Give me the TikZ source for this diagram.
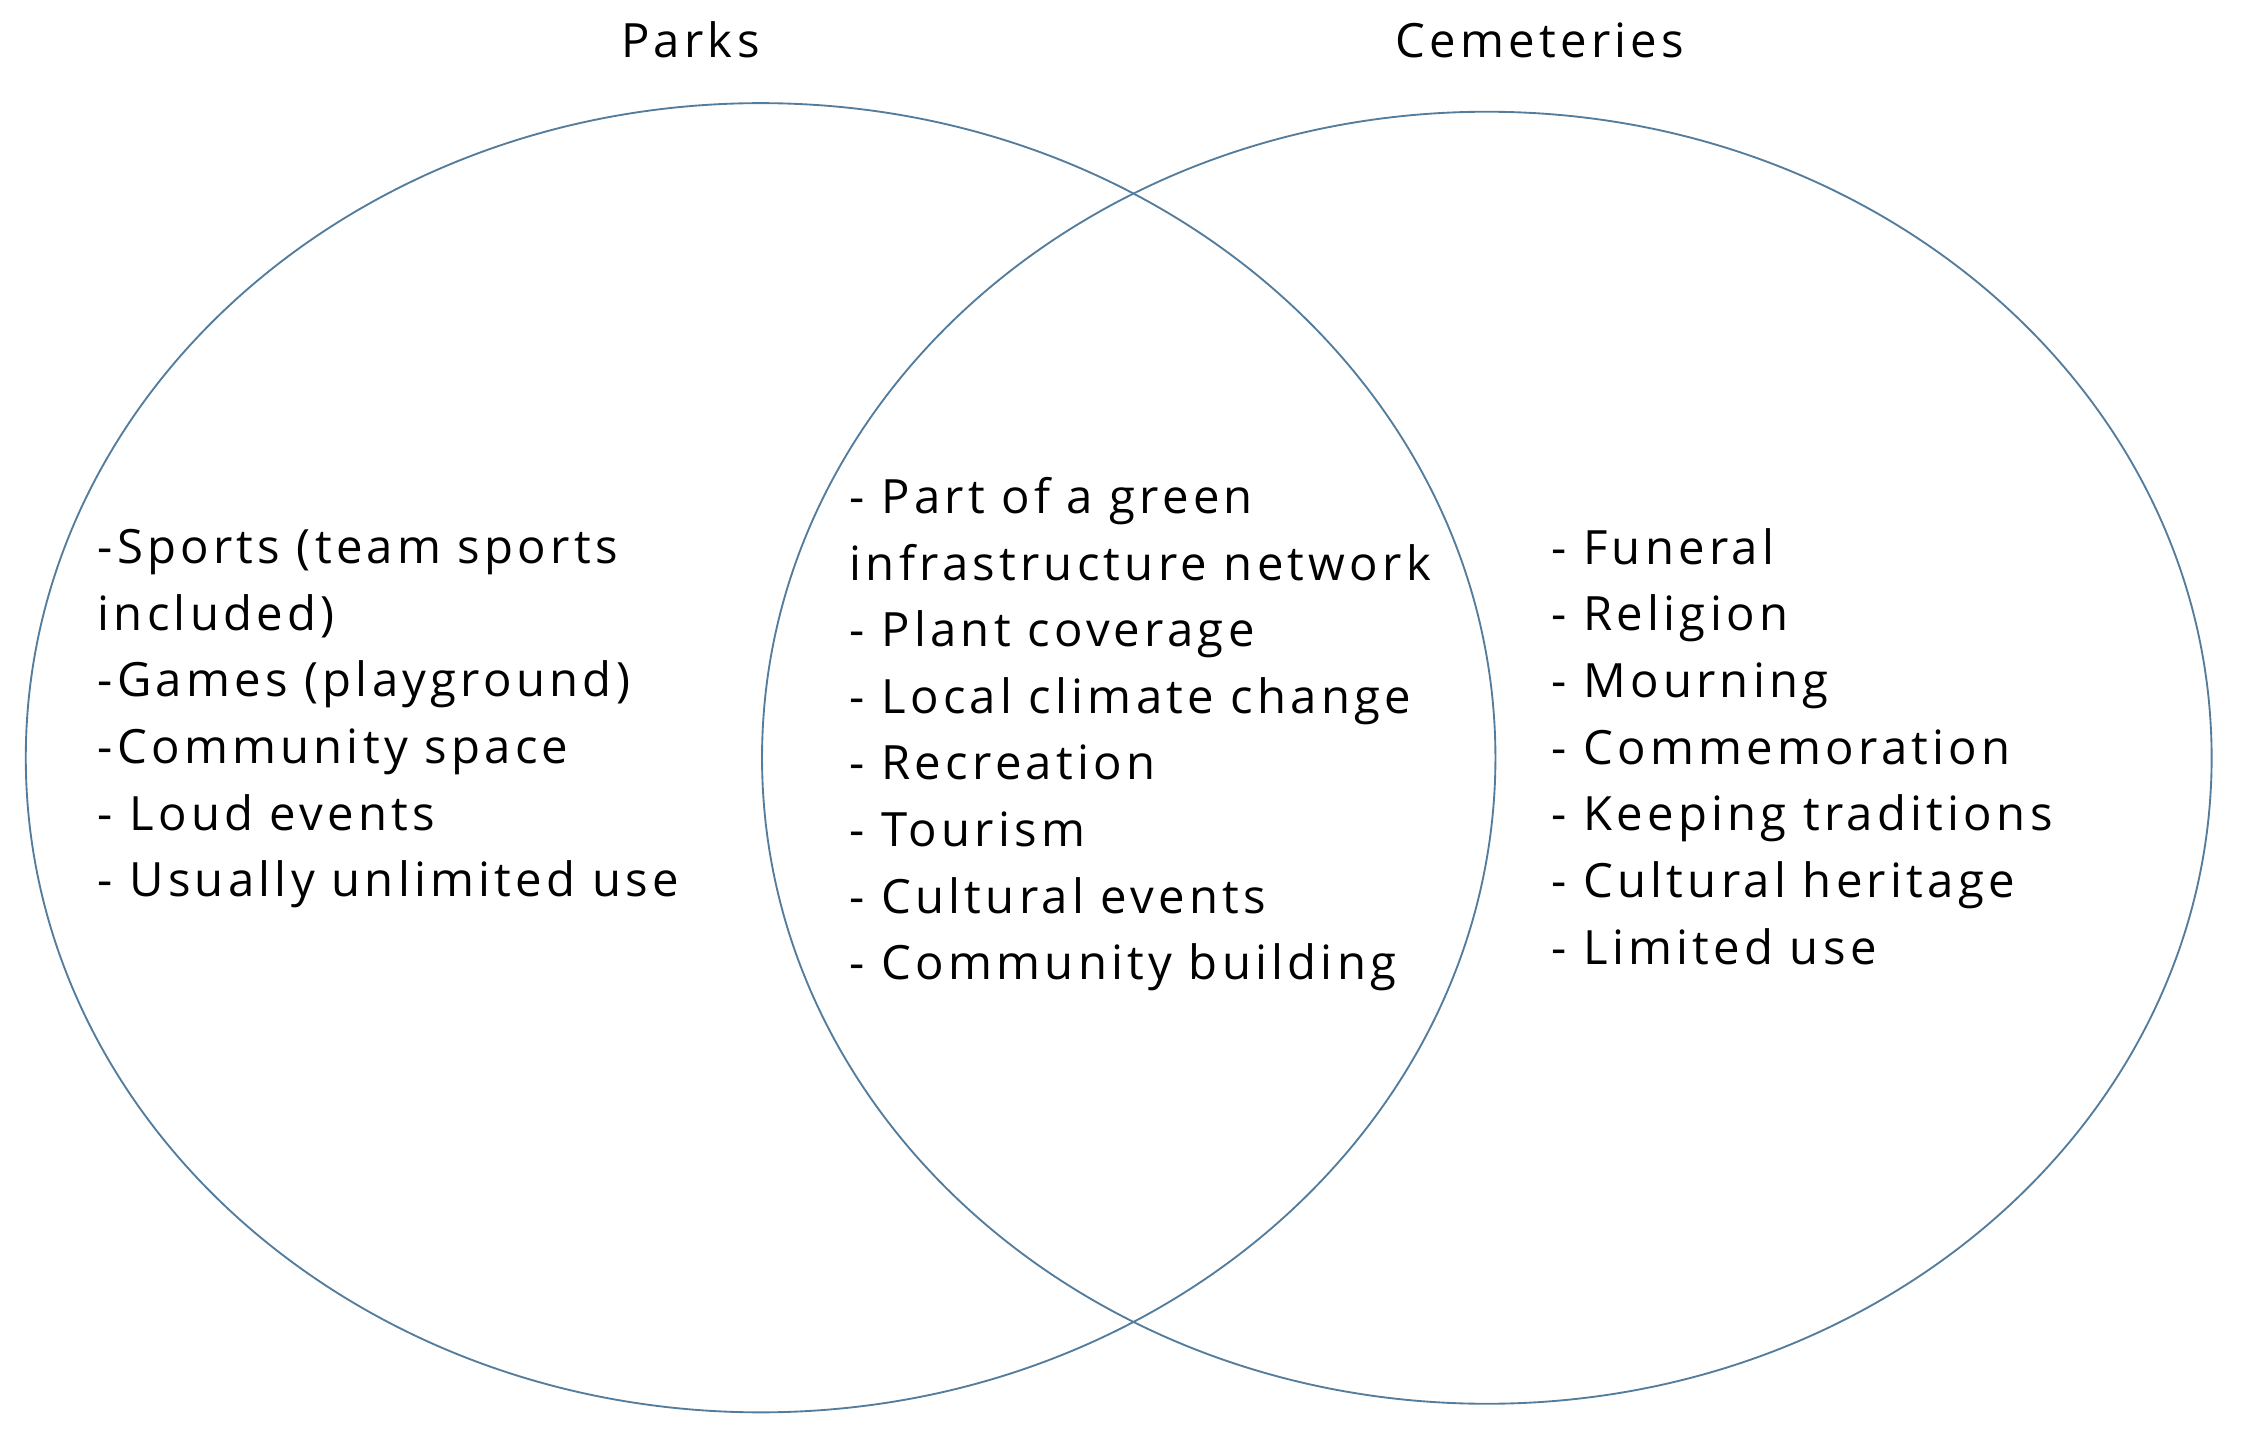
\documentclass[tikz,border=0pt]{standalone}
\usepackage{fontspec}
\setmainfont{Open Sans}[LetterSpace=9]
\definecolor{ring}{RGB}{84,124,156}
\begin{document}
\begin{tikzpicture}[x=1pt,y=-1pt,
  ringstyle/.style={draw=ring,line width=1.3pt},
  txt/.style={anchor=base west,inner sep=0pt,align=left,font=\fontsize{33}{46.5}\selectfont},
  ttl/.style={inner sep=0pt,font=\fontsize{33}{36}\selectfont}]
\useasboundingbox (0,0) rectangle (1568,1004);
\draw[ringstyle] (531,529) ellipse [x radius=513,y radius=457];
\draw[ringstyle] (1038,529) ellipse [x radius=506,y radius=451];
\node[ttl] (parks) at (482,28) {Parks};
\node[ttl] (cem) at (1075,28) {Cemeteries};
\node[txt] (left) at (68,626) {-Sports (team sports\\included)\\-Games (playground)\\-Community space\\- Loud events\\- Usually unlimited use};
\node[txt] (mid) at (593,684) {- Part of a green\\infrastructure network\\- Plant coverage\\- Local climate change\\- Recreation\\- Tourism\\- Cultural events\\- Community building};
\node[txt] (right) at (1083,673) {- Funeral\\- Religion\\- Mourning\\- Commemoration\\- Keeping traditions\\- Cultural heritage\\- Limited use};
\end{tikzpicture}
\end{document}
